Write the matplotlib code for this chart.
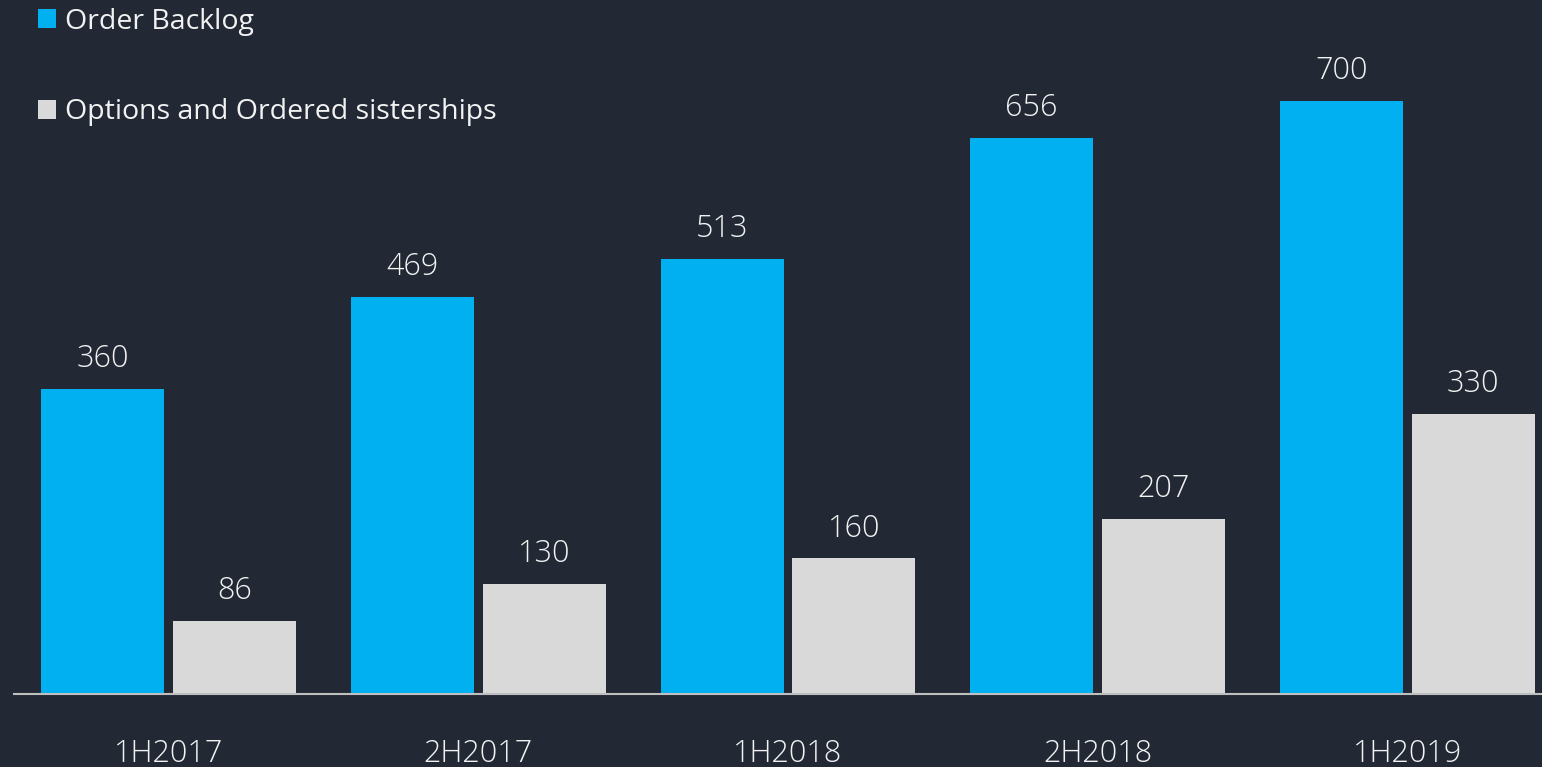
import numpy as np
import matplotlib.pyplot as plt

periods = ['1H2017', '2H2017', '1H2018', '2H2018', '1H2019']
order_backlog = [360, 469, 513, 656, 700]
options_sisterships = [86, 130, 160, 207, 330]

bg = '#222935'
blue = '#00b0f0'
grey = '#d9d9d9'
txt = '#f2f2f2'

plt.rcParams['font.family'] = ['Open Sans', 'DejaVu Sans']

fig = plt.figure(figsize=(15.42, 7.67), dpi=100, facecolor=bg)
W, H = 1542, 767
ax = fig.add_axes([14 / W, (H - 694) / H, 1548 / W, 678 / H])
ax.set_facecolor(bg)

x = np.arange(len(periods))
w = 0.397
off = 0.213
b1 = ax.bar(x - off, order_backlog, w, color=blue, label='Order Backlog')
b2 = ax.bar(x + off, options_sisterships, w, color=grey, label='Options and Ordered sisterships')

for bars in (b1, b2):
    ax.bar_label(bars, padding=10, color=txt, fontsize=22, fontweight='light')

ax.set_xlim(-0.5, len(periods) - 0.5)
ax.set_ylim(0, 800)
ax.set_yticks([])
ax.set_xticks(x)
ax.set_xticklabels(periods, color=txt, fontsize=22, fontweight='light')
ax.tick_params(axis='x', length=0, pad=32)
for s in ['top', 'right', 'left']:
    ax.spines[s].set_visible(False)
ax.spines['bottom'].set_color('#bfbfbf')
ax.spines['bottom'].set_linewidth(1.5)

leg = fig.legend(handles=[b1, b2], loc='upper left', bbox_to_anchor=(12 / W, 1 + 18 / H),
                 frameon=False, fontsize=20.5, labelcolor=txt, labelspacing=2.2,
                 handlelength=0.65, handleheight=0.65, handletextpad=0.3)

fig.savefig('out.png', dpi=100, facecolor=bg)
